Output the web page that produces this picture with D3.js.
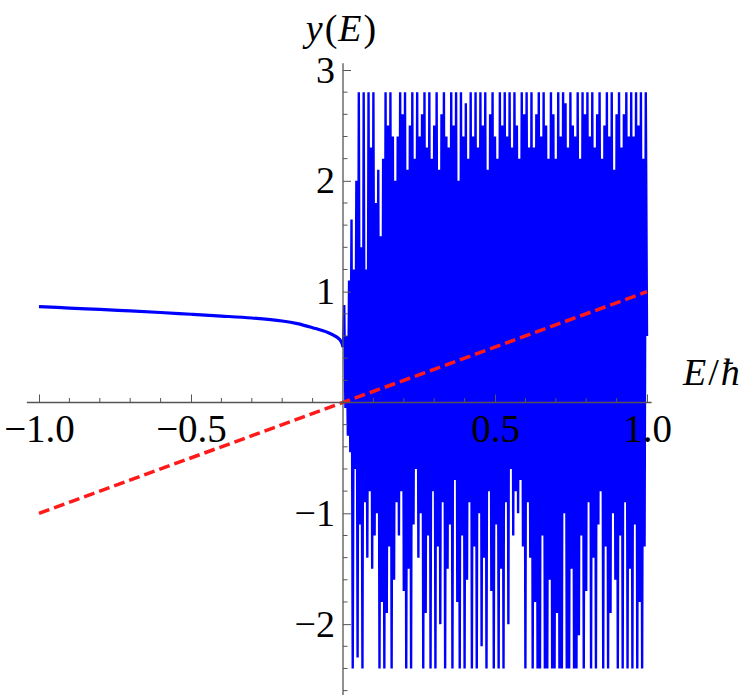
<!DOCTYPE html>
<html>
<head>
<meta charset="utf-8">
<script src="https://cdn.jsdelivr.net/npm/d3@7"></script>
<style>
  html, body { margin: 0; padding: 0; background: #fff; }
  svg { display: block; }
</style>
</head>
<body>
<svg id="chart" width="750" height="698"></svg>
<script>
// ---- data ----
const smoothE = [-1, -0.9, -0.8, -0.7, -0.6, -0.5, -0.4, -0.3, -0.2, -0.15, -0.1, -0.05, -0.02, -0.01, -0.003, 0];
const smoothY = [0.865, 0.852, 0.84, 0.826, 0.812, 0.796, 0.78, 0.762, 0.735, 0.712, 0.675, 0.632, 0.59, 0.565, 0.53, 0.5];

const oscE = [
0.004,0.008,0.012,0.016,0.020,0.024,0.028,0.032,0.036,0.040,
0.044,0.048,0.052,0.056,0.060,0.064,0.068,0.072,0.076,0.080,
0.084,0.088,0.092,0.096,0.100,0.104,0.108,0.112,0.116,0.120,
0.124,0.128,0.132,0.136,0.140,0.144,0.148,0.152,0.156,0.160,
0.164,0.168,0.172,0.176,0.180,0.184,0.188,0.192,0.196,0.200,
0.204,0.208,0.212,0.216,0.220,0.224,0.228,0.232,0.236,0.240,
0.244,0.248,0.252,0.256,0.260,0.264,0.268,0.272,0.276,0.280,
0.284,0.288,0.292,0.296,0.300,0.304,0.308,0.312,0.316,0.320,
0.324,0.328,0.332,0.336,0.340,0.344,0.348,0.352,0.356,0.360,
0.364,0.368,0.372,0.376,0.380,0.384,0.388,0.392,0.396,0.400,
0.404,0.408,0.412,0.416,0.420,0.424,0.428,0.432,0.436,0.440,
0.444,0.448,0.452,0.456,0.460,0.464,0.468,0.472,0.476,0.480,
0.484,0.488,0.492,0.496,0.500,0.504,0.508,0.512,0.516,0.520,
0.524,0.528,0.532,0.536,0.540,0.544,0.548,0.552,0.556,0.560,
0.564,0.568,0.572,0.576,0.580,0.584,0.588,0.592,0.596,0.600,
0.604,0.608,0.612,0.616,0.620,0.624,0.628,0.632,0.636,0.640,
0.644,0.648,0.652,0.656,0.660,0.664,0.668,0.672,0.676,0.680,
0.684,0.688,0.692,0.696,0.700,0.704,0.708,0.712,0.716,0.720,
0.724,0.728,0.732,0.736,0.740,0.744,0.748,0.752,0.756,0.760,
0.764,0.768,0.772,0.776,0.780,0.784,0.788,0.792,0.796,0.800,
0.804,0.808,0.812,0.816,0.820,0.824,0.828,0.832,0.836,0.840,
0.844,0.848,0.852,0.856,0.860,0.864,0.868,0.872,0.876,0.880,
0.884,0.888,0.892,0.896,0.900,0.904,0.908,0.912,0.916,0.920,
0.924,0.928,0.932,0.936,0.940,0.944,0.948,0.952,0.956,0.960,
0.964,0.968,0.972,0.976,0.980,0.984,0.988,0.992,0.996,1.000];

const oscY = [
0.88,-0.05,0.6,-0.3,1.1,-0.45,1.65,-2.4,1.2,-0.6,
2.0,-2.3,2.8,-1.1,1.4,-2.4,2.8,-0.9,1.2,-1.4,
2.8,-0.8,2.3,-1.5,2.8,-1.2,1.8,-1.0,2.1,-2.4,
1.5,-1.8,2.2,-2.4,2.8,-1.9,2.5,-1.3,2.8,-2.4,
2.4,-1.6,2.0,-0.9,2.4,-1.2,2.8,-0.8,2.6,-1.7,
2.8,-2.4,2.1,-1.5,2.5,-2.4,2.8,-1.1,2.2,-0.6,
2.8,-1.4,2.4,-1.0,2.6,-2.4,2.8,-1.9,2.3,-1.2,
2.8,-2.4,2.2,-0.8,2.5,-2.4,2.8,-1.3,2.1,-2.0,
2.6,-0.9,2.8,-2.4,2.4,-1.5,2.3,-1.1,2.8,-2.4,
2.5,-0.7,2.8,-1.8,2.0,-2.4,2.8,-1.2,2.4,-2.4,
2.7,-1.6,2.2,-0.9,2.8,-2.4,2.4,-1.3,2.8,-2.4,
2.3,-1.0,2.8,-2.2,2.5,-1.4,2.8,-2.4,2.1,-0.8,
2.6,-1.7,2.8,-2.4,2.4,-1.1,2.2,-2.4,2.8,-1.5,
2.5,-2.4,2.8,-0.9,2.4,-2.0,2.8,-0.6,2.3,-1.2,
2.8,-0.8,2.5,-1.0,2.2,-0.7,2.8,-1.3,2.6,-2.4,
2.8,-0.9,2.3,-1.4,2.8,-2.4,2.3,-1.8,2.6,-2.4,
2.8,-2.4,2.4,-1.2,2.8,-2.4,2.5,-2.4,2.2,-1.6,
2.8,-2.4,2.6,-2.4,2.2,-1.9,2.8,-2.4,2.4,-2.4,
2.8,-1.0,2.7,-2.4,2.3,-2.4,2.8,-1.5,2.5,-2.4,
2.4,-2.4,2.8,-2.1,2.2,-1.2,2.8,-2.4,2.6,-1.7,
2.8,-0.9,2.4,-2.4,2.8,-1.4,2.3,-2.4,2.6,-1.1,
2.8,-0.8,2.2,-2.4,2.5,-1.3,2.8,-2.4,2.4,-1.9,
2.8,-1.0,2.1,-1.6,2.6,-2.4,2.8,-1.2,2.3,-2.4,
2.6,-0.9,2.8,-2.4,2.4,-1.5,2.8,-2.4,2.4,-1.1,
2.8,-2.4,2.5,-1.8,2.8,-2.4,2.2,-1.3,2.8,0.6];

const refLineE = [-1, 1];
const refLineY = [-1, 1];

const xMajorTicks = [-1.0, -0.5, 0.5, 1.0];
const yMajorTicks = [-2, -1, 1, 2, 3];

// ---- layout ----
const svg = d3.select("#chart");
const x = d3.scaleLinear().domain([-1, 1]).range([39, 647]);
const y = d3.scaleLinear().domain([-1, 3]).range([513.3, 70]);

const FONT = "'Liberation Serif', 'Times New Roman', serif";

svg.append("defs").append("clipPath").attr("id", "clip")
  .append("rect")
  .attr("x", x(-1.05)).attr("y", y(2.8) - 1)
  .attr("width", x(1.05) - x(-1.05))
  .attr("height", y(-2.4) - y(2.8) + 2);

const plot = svg.append("g").attr("clip-path", "url(#clip)");

const smoothData = smoothE.map((e, i) => [e, smoothY[i]]);
const oscData = [[smoothE[smoothE.length - 1], smoothY[smoothY.length - 1]]]
  .concat(oscE.map((e, i) => [e, oscY[i]]));

plot.append("path")
  .datum(smoothData)
  .attr("fill", "none")
  .attr("stroke", "#0000ff")
  .attr("stroke-width", 3.2)
  .attr("d", d3.line().x(d => x(d[0])).y(d => y(d[1])).curve(d3.curveCatmullRom.alpha(0.5)));

plot.append("path")
  .datum(oscData)
  .attr("fill", "none")
  .attr("stroke", "#0000ff")
  .attr("stroke-width", 2.4)
  .attr("stroke-linejoin", "miter")
  .attr("stroke-miterlimit", 1)
  .attr("d", d3.line().x(d => x(d[0])).y(d => y(d[1])));

// red dashed reference line
svg.append("path")
  .datum(refLineE.map((e, i) => [e, refLineY[i]]))
  .attr("fill", "none")
  .attr("stroke", "#ff1a1a")
  .attr("stroke-width", 3.5)
  .attr("stroke-dasharray", "11,5")
  .attr("d", d3.line().x(d => x(d[0])).y(d => y(d[1])));

// ---- axes ----
const axisColor = "#555";
const x0 = x(0), y0 = y(0);

const xMinor = d3.range(-10, 11).map(v => v / 10).filter(v => Math.abs(v % 0.5) > 1e-9 && Math.abs(v) > 1e-9);
const gx = svg.append("g").attr("transform", `translate(0,${y0})`);
gx.call(d3.axisBottom(x).tickValues(xMajorTicks).tickSize(-8).tickPadding(12).tickFormat(d3.format(".1f")));
gx.select(".domain").remove();
gx.selectAll(".tick line").attr("stroke", axisColor);
gx.selectAll(".tick text").attr("font-family", FONT).attr("font-size", 39).attr("fill", "#000");
gx.append("g").selectAll("line").data(xMinor).join("line")
  .attr("x1", d => x(d)).attr("x2", d => x(d))
  .attr("y1", 0).attr("y2", -4.5).attr("stroke", axisColor);
gx.append("line").attr("x1", x(-1.04)).attr("x2", x(1.015)).attr("y1", 0).attr("y2", 0)
  .attr("stroke", axisColor).attr("stroke-width", 1.3);

const yMinor = d3.range(-13, 16).map(v => v / 5).filter(v => Math.abs(v - Math.round(v)) > 1e-9);
const gy = svg.append("g").attr("transform", `translate(${x0},0)`);
gy.call(d3.axisLeft(y).tickValues(yMajorTicks).tickSize(-8).tickPadding(8).tickFormat(d3.format("d")));
gy.select(".domain").remove();
gy.selectAll(".tick line").attr("stroke", axisColor);
gy.selectAll(".tick text").attr("font-family", FONT).attr("font-size", 38).attr("fill", "#000");
gy.append("g").selectAll("line").data(yMinor).join("line")
  .attr("y1", d => y(d)).attr("y2", d => y(d))
  .attr("x1", 0).attr("x2", 4.5).attr("stroke", axisColor);
gy.append("line").attr("y1", y(-2.64)).attr("y2", y(3.06)).attr("x1", 0).attr("x2", 0)
  .attr("stroke", axisColor).attr("stroke-width", 1.3);

// axis labels
const yl = svg.append("text").attr("x", x0 - 2).attr("y", 41)
  .attr("text-anchor", "middle").attr("font-family", FONT).attr("font-size", 38).attr("fill", "#000");
yl.append("tspan").attr("font-style", "italic").text("y");
yl.append("tspan").attr("dx", 2).text("(");
yl.append("tspan").attr("font-style", "italic").attr("dx", 1).text("E");
yl.append("tspan").attr("dx", 2).text(")");

const xl = svg.append("text").attr("x", 683).attr("y", 385)
  .attr("text-anchor", "start").attr("font-family", FONT).attr("font-size", 38).attr("fill", "#000");
xl.append("tspan").attr("font-style", "italic").text("E");
xl.append("tspan").attr("dx", 2).text("/");
xl.append("tspan").attr("font-style", "italic").attr("dx", 2).text("ħ");
</script>
</body>
</html>
